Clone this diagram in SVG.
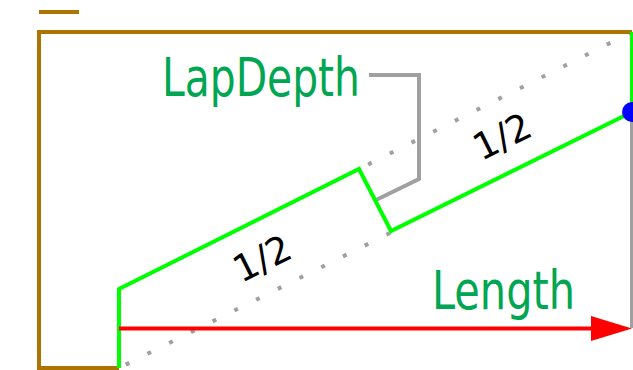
<svg xmlns="http://www.w3.org/2000/svg" width="633" height="370" viewBox="0 0 633 370">
<style>
.l{fill:none;stroke-width:4;stroke-linejoin:miter}
.brown{stroke:#ad7400}
.green{stroke:#00ff00}
.gray{stroke:#a0a0a0}
.dot{stroke:#a0a0a0;stroke-dasharray:4 20.27}
.lab{fill:#00a651;font-family:"DejaVu Sans",sans-serif;font-size:53px}
.half{fill:#000;font-family:"DejaVu Sans",sans-serif;font-size:37px;text-anchor:middle}
</style>
<rect width="633" height="370" fill="#fff"/>
<g id="connectors">
<path class="l dot" d="M632 32L359 169"/>
<path class="l dot" d="M390 233L119 368"/>
<path class="l gray" d="M632 112V328"/>
<path class="l gray" d="M369 75H419V179L376 200"/>
<path class="l brown" d="M39 12H79"/>
<path class="l brown" d="M119 368H39V32H632"/>
<path class="l green" d="M119 368V289L359 169L391 231L632 112V32"/>
<path class="l" stroke="#ff0000" d="M119 328.5H592"/>
<path fill="#ff0000" d="M632 328.5L591 316V341Z"/>
</g>
<g id="point"><circle cx="632" cy="112" r="10" fill="#0000ff"/></g>
<g id="lapdepth"><text class="lab" x="162" y="96" textLength="198" lengthAdjust="spacingAndGlyphs">LapDepth</text></g>
<g id="length"><text class="lab" x="432" y="309" textLength="143" lengthAdjust="spacingAndGlyphs">Length</text></g>
<g id="half1"><text class="half" transform="translate(268 270) rotate(-26.5)">1/2</text></g>
<g id="half2"><text class="half" transform="translate(508 148) rotate(-26.5)">1/2</text></g>
</svg>
